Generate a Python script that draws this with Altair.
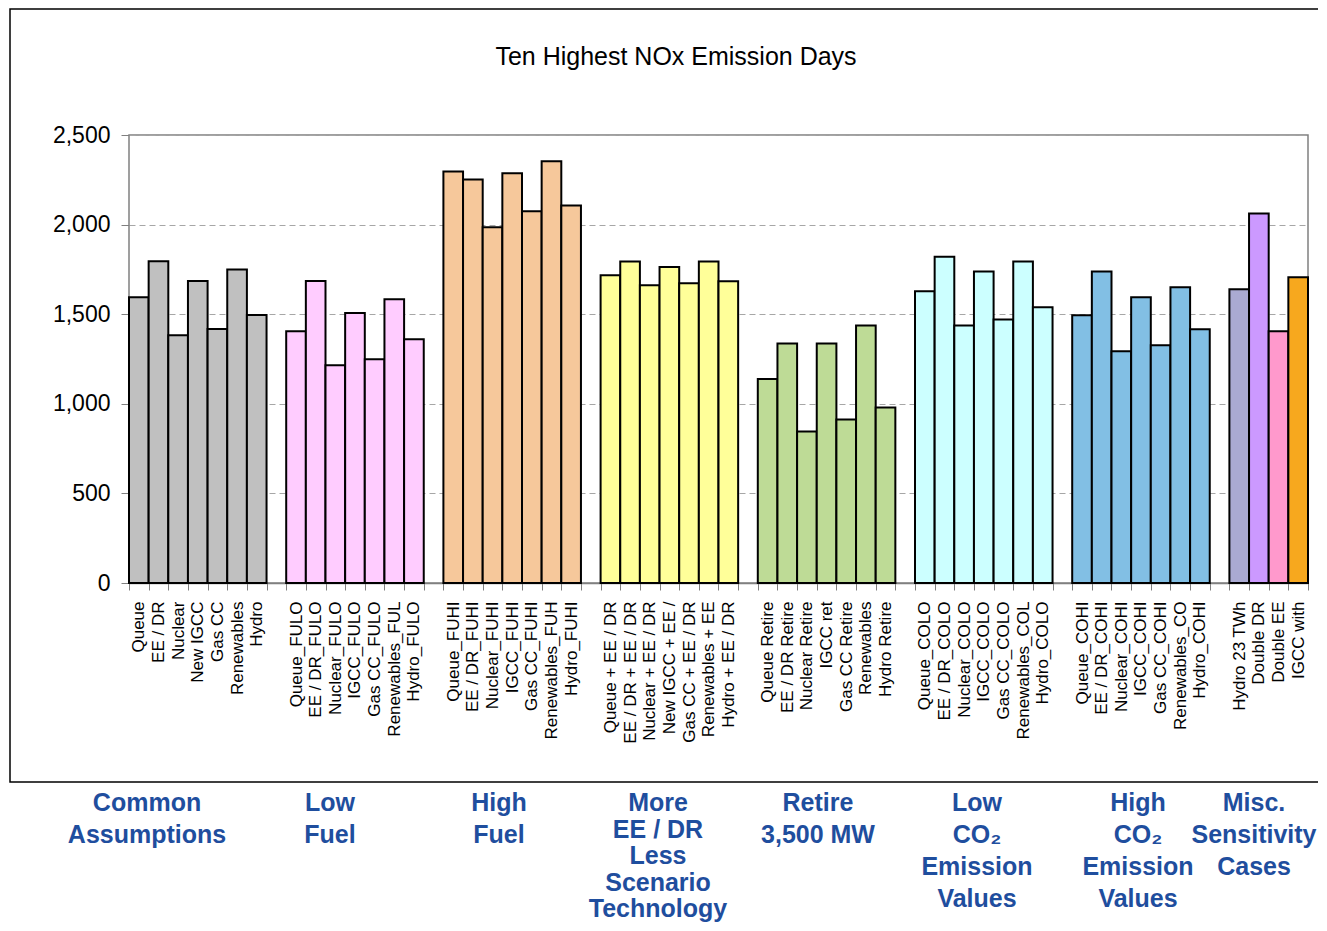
import json
import altair as alt
import pandas as pd

FONT = "Liberation Sans"

# ---------------- data ----------------
common_labels = ["Queue", "EE / DR", "Nuclear", "New IGCC", "Gas CC", "Renewables", "Hydro"]
common_values = [1595, 1795, 1383, 1685, 1418, 1750, 1495]

lowfuel_labels = ["Queue_FULO", "EE / DR_FULO", "Nuclear_FULO", "IGCC_FULO", "Gas CC_FULO", "Renewables_FUL", "Hydro_FULO"]
lowfuel_values = [1405, 1685, 1215, 1507, 1248, 1583, 1360]

highfuel_labels = ["Queue_FUHI", "EE / DR_FUHI", "Nuclear_FUHI", "IGCC_FUHI", "Gas CC_FUHI", "Renewables_FUH", "Hydro_FUHI"]
highfuel_values = [2296, 2252, 1985, 2287, 2075, 2354, 2107]

moreee_labels = ["Queue + EE / DR", "EE / DR + EE / DR", "Nuclear + EE / DR", "New IGCC + EE /", "Gas CC + EE / DR", "Renewables + EE", "Hydro + EE / DR"]
moreee_values = [1717, 1794, 1662, 1764, 1673, 1794, 1684]

retire_labels = ["Queue Retire", "EE / DR Retire", "Nuclear Retire", "IGCC  ret", "Gas CC Retire", "Renewables", "Hydro Retire"]
retire_values = [1139, 1336, 846, 1336, 913, 1437, 980]

lowco2_labels = ["Queue_COLO", "EE / DR_COLO", "Nuclear_COLO", "IGCC_COLO", "Gas CC_COLO", "Renewables_COL", "Hydro_COLO"]
lowco2_values = [1628, 1820, 1437, 1738, 1470, 1794, 1539]

highco2_labels = ["Queue_COHI", "EE / DR_COHI", "Nuclear_COHI", "IGCC_COHI", "Gas CC_COHI", "Renewables_CO", "Hydro_COHI"]
highco2_values = [1494, 1738, 1293, 1595, 1327, 1651, 1416]

misc_labels = ["Hydro 23 TWh", "Double DR", "Double EE", "IGCC with"]
misc_values = [1639, 2062, 1405, 1706]

group_colors = ["#C0C0C0", "#FFCCFF", "#F6C89B", "#FFFF99", "#BEDB96", "#CCFFFF", "#82BFE4"]
misc_colors = ["#AAAAD2", "#CC99FF", "#FF99CC", "#F7A81E"]

group_titles = [
    ["Common", "Assumptions"],
    ["Low", "Fuel"],
    ["High", "Fuel"],
    ["More", "EE / DR", "Less", "Scenario", "Technology"],
    ["Retire", "3,500 MW"],
    ["Low", "CO\u2082", "Emission", "Values"],
    ["High", "CO\u2082", "Emission", "Values"],
    ["Misc.", "Sensitivity", "Cases"],
]
chart_title = "Ten Highest NOx Emission Days"

# ---------------- table ----------------
groups = [
    (common_labels, common_values, [group_colors[0]] * 7),
    (lowfuel_labels, lowfuel_values, [group_colors[1]] * 7),
    (highfuel_labels, highfuel_values, [group_colors[2]] * 7),
    (moreee_labels, moreee_values, [group_colors[3]] * 7),
    (retire_labels, retire_values, [group_colors[4]] * 7),
    (lowco2_labels, lowco2_values, [group_colors[5]] * 7),
    (highco2_labels, highco2_values, [group_colors[6]] * 7),
    (misc_labels, misc_values, misc_colors),
]

rows = []
slot_labels = []
slot = 0
for gi, (labs, vals, cols) in enumerate(groups):
    for lab, val, col in zip(labs, vals, cols):
        rows.append({"slot": slot, "label": lab, "value": val, "color": col})
        slot_labels.append(lab)
        slot += 1
    if gi < len(groups) - 1:
        slot_labels.append("")
        slot += 1
n_slots = slot
df = pd.DataFrame(rows)

W, H = 1179, 448

bars = alt.Chart(df).mark_bar(stroke="black", strokeWidth=2).encode(
    x=alt.X(
        "slot:O",
        scale=alt.Scale(domain=list(range(n_slots)), paddingInner=0, paddingOuter=0),
        axis=alt.Axis(
            title=None,
            labelExpr=json.dumps(slot_labels) + "[datum.value]",
            labelAngle=270,
            labelFont=FONT,
            labelFontSize=17,
            labelColor="black",
            labelPadding=11,
            labelLimit=300,
            labelOverlap=False,
            tickSize=7,
            tickColor="#808080",
            tickBand="extent",
            domainColor="#808080",
            domainWidth=1.5,
            grid=False,
        ),
    ),
    y=alt.Y(
        "value:Q",
        scale=alt.Scale(domain=[0, 2500], nice=False),
        axis=alt.Axis(
            title=None,
            values=[0, 500, 1000, 1500, 2000, 2500],
            format=",d",
            labelFont=FONT,
            labelFontSize=23,
            labelColor="black",
            labelPadding=11,
            tickSize=8,
            tickColor="#808080",
            domain=False,
            grid=True,
            gridColor="#A6A6A6",
            gridDash=[6, 4],
            gridWidth=1,
        ),
    ),
    color=alt.Color("color:N", scale=None),
)

one = pd.DataFrame({"k": [0]})

frame = alt.Chart(one).mark_rect(fillOpacity=0, stroke="black", strokeWidth=1.5).encode(
    x=alt.value(-119), x2=alt.value(W + 60), y=alt.value(-126), y2=alt.value(647)
)

title = alt.Chart(one).mark_text(
    font=FONT, fontSize=25, color="black", align="center", baseline="alphabetic"
).encode(x=alt.value(547), y=alt.value(-70), text=alt.value(chart_title))

label_page_x = [147, 330, 499, 658, 818, 977, 1138, 1254]
label_layers = []
for lines, px in zip(group_titles, label_page_x):
    lh = 26.5 if len(lines) == 5 else 32
    label_layers.append(
        alt.Chart(one).mark_text(
            font=FONT, fontSize=25, fontWeight="bold", color="#1F4E9E",
            align="center", baseline="alphabetic", lineHeight=lh,
        ).encode(x=alt.value(px - 129), y=alt.value(676), text=alt.value(lines))
    )

chart = alt.layer(frame, bars, title, *label_layers).properties(
    width=W,
    height=H,
    autosize=alt.AutoSizeParams(type="none"),
    padding={"left": 121, "top": 127, "right": 10, "bottom": 340},
).configure_view(stroke="#808080", strokeWidth=1.5)

chart.save("out.html", embed_options={"renderer": "svg", "actions": False})
